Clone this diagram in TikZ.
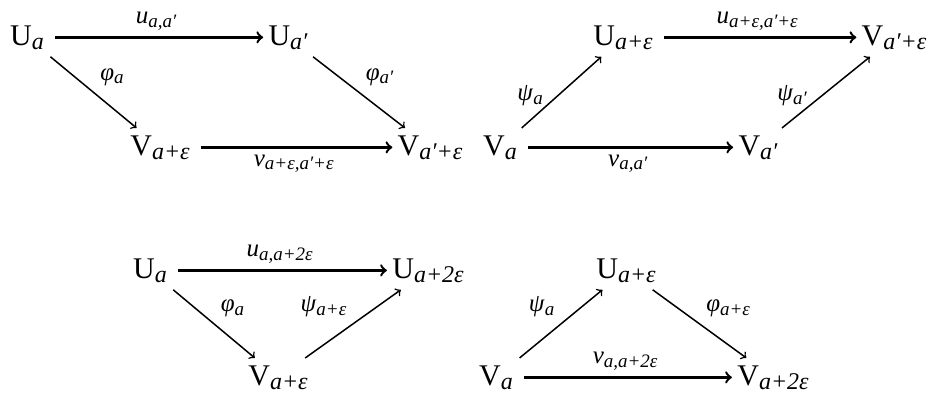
\documentclass[tikz,border=0pt]{standalone}
\usepackage{fontspec}
\setmainfont{Liberation Serif}
% objeto y etiqueta con subindice en cursiva
\newcommand{\ob}[2]{#1\raisebox{-0.3ex}{\fontsize{12}{14}\selectfont\itshape #2}}
\newcommand{\lb}[2]{\textit{#1}\raisebox{-0.3ex}{\fontsize{9.5}{11}\selectfont\itshape #2}}
\begin{document}
\begin{tikzpicture}[
    x=0.5pt,
    y=-0.5pt,
    obj/.style={anchor=base,inner sep=3.5pt,font=\fontsize{15}{18}\selectfont},
    flecha/.style={->,line width=1.2pt,shorten <=2pt,shorten >=-1pt},
    diag/.style={->,line width=0.75pt},
    etiq/.style={font=\fontsize{12.5}{15}\selectfont,inner sep=3pt}
]
    \useasboundingbox (0,0) rectangle (930,392);

    % Cuadrado superior izquierdo
    \node[obj] (ua) at (27,45) {\ob{U}{a}};
    \node[obj] (uap) at (288,45) {\ob{U}{a′}};
    \node[obj] (vae) at (160,155) {\ob{V}{a+ε}};
    \node[obj] (vape) at (430,155) {\ob{V}{a′+ε}};
    \draw[flecha] (ua) -- (uap) node[etiq,midway,above] (lu) {\lb{u}{a,a′}};
    \draw[flecha] (vae) -- (vape) node[etiq,midway,below] (lv) {\lb{v}{a+ε,a′+ε}};
    \draw[diag] (ua) -- (vae) node[etiq,midway,above right] (lphi) {\lb{φ}{a}};
    \draw[diag] (uap) -- (vape) node[etiq,midway,above right] (lphip) {\lb{φ}{a′}};

    % Cuadrado superior derecho
    \node[obj] (va2) at (500,155) {\ob{V}{a}};
    \node[obj] (vap2) at (758,155) {\ob{V}{a′}};
    \node[obj] (uae2) at (623,45) {\ob{U}{a+ε}};
    \node[obj] (vape2) at (894,45) {\ob{V}{a′+ε}};
    \draw[flecha] (va2) -- (vap2) node[etiq,midway,below] (lv2) {\lb{v}{a,a′}};
    \draw[flecha] (uae2) -- (vape2) node[etiq,midway,above] (lu2) {\lb{u}{a+ε,a′+ε}};
    \draw[diag] (va2) -- (uae2) node[etiq,pos=0.45,left=4pt] (lpsi2) {\lb{ψ}{a}};
    \draw[diag] (vap2) -- (vape2) node[etiq,pos=0.45,left=4pt] (lpsip2) {\lb{ψ}{a′}};

    % Triangulo inferior izquierdo
    \node[obj] (ua3) at (150,278) {\ob{U}{a}};
    \node[obj] (uaee3) at (428,278) {\ob{U}{a+2ε}};
    \node[obj] (vae3) at (278,385) {\ob{V}{a+ε}};
    \draw[flecha] (ua3) -- (uaee3) node[etiq,midway,above] (lu3) {\lb{u}{a,a+2ε}};
    \draw[diag] (ua3) -- (vae3) node[etiq,midway,above right] (lphi3) {\lb{φ}{a}};
    \draw[diag] (vae3) -- (uaee3) node[etiq,midway,above left] (lpsi3) {\lb{ψ}{a+ε}};

    % Triangulo inferior derecho
    \node[obj] (va4) at (496,385) {\ob{V}{a}};
    \node[obj] (uae4) at (626,278) {\ob{U}{a+ε}};
    \node[obj] (vaee4) at (773,385) {\ob{V}{a+2ε}};
    \draw[flecha] (va4) -- (vaee4) node[etiq,midway,above] (lv4) {\lb{v}{a,a+2ε}};
    \draw[diag] (va4) -- (uae4) node[etiq,midway,above left] (lpsi4) {\lb{ψ}{a}};
    \draw[diag] (uae4) -- (vaee4) node[etiq,midway,above right] (lphi4) {\lb{φ}{a+ε}};
\end{tikzpicture}
\end{document}
